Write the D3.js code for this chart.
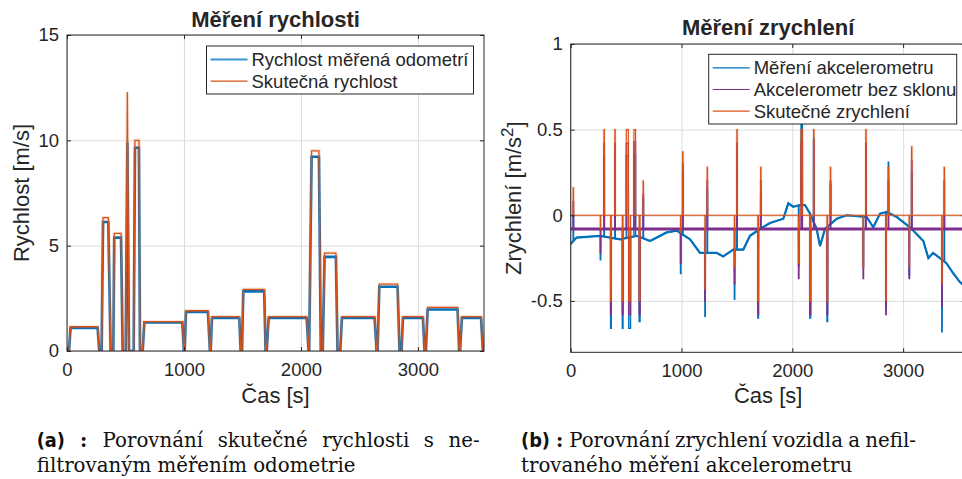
<!DOCTYPE html>
<html>
<head>
<meta charset="utf-8">
<script src="https://cdn.jsdelivr.net/npm/d3@7"></script>
<style>
body { margin: 0; background: #fff; }
svg text { font-family: "Liberation Sans", Arial, sans-serif; fill: #262626; }
.axis path { display: none; }
.axis line { stroke: #262626; }
.grid line { stroke: #dcdcdc; }
.grid path { display: none; }
.caption text { font-family: "DejaVu Serif", serif; fill: #111; }
</style>
</head>
<body>
<div class="chart"></div>
<script>
// ---- speed chart (a), breakpoints ----
var speedTime = [0, 17, 30, 262, 276, 296, 308, 353, 373, 396, 404, 462, 476, 502, 516, 530, 570, 581, 615, 624,
    647, 661, 986, 1000, 1006, 1017, 1205, 1222, 1228, 1239, 1473, 1485, 1496, 1507, 1686, 1698, 1707, 1724,
    2049, 2066, 2070, 2091, 2154, 2170, 2186, 2202, 2299, 2313, 2336, 2350, 2630, 2647, 2655, 2670, 2826, 2843,
    2860, 2872, 3043, 3057, 3068, 3083, 3339, 3353, 3360, 3376, 3540, 3556, 3565];
var speedTrue = [0, 0, 1.15, 1.15, 0, 0, 6.33, 6.33, 0, 0, 5.58, 5.58, 0, 0, 12.3, 0, 0, 10.0, 10.0, 0,
    0, 1.39, 1.39, 0, 0, 1.91, 1.91, 0, 0, 1.63, 1.63, 0, 0, 2.93, 2.93, 0, 0, 1.63,
    1.63, 0, 0, 9.5, 9.5, 0, 0, 4.65, 4.65, 0, 0, 1.63, 1.63, 0, 0, 3.17, 3.17, 0,
    0, 1.63, 1.63, 0, 0, 2.07, 2.07, 0, 0, 1.63, 1.63, 0, 0];
var speedMeas = [0, 0, 1.1, 1.1, 0, 0, 6.12, 6.12, 0, 0, 5.38, 5.38, 0, 0, 9.9, 0, 0, 9.65, 9.65, 0,
    0, 1.36, 1.36, 0, 0, 1.85, 1.85, 0, 0, 1.57, 1.57, 0, 0, 2.83, 2.83, 0, 0, 1.57,
    1.57, 0, 0, 9.22, 9.22, 0, 0, 4.47, 4.47, 0, 0, 1.57, 1.57, 0, 0, 3.05, 3.05, 0,
    0, 1.57, 1.57, 0, 0, 1.97, 1.97, 0, 0, 1.57, 1.57, 0, 0];

// ---- acceleration chart (b) ----
// pulses: centre time, half width [s], true value, without slope, raw accelerometer
var accTime = [24, 269, 302, 363, 400, 469, 511, 532, 578, 622, 655, 993, 1012, 1213, 1233, 1479, 1501, 1692, 1716,
    2058, 2085, 2162, 2194, 2316, 2345, 2641, 2665, 2846, 2868, 3056, 3078, 3351, 3372];
var accHalf = [2, 2, 2, 3, 2, 3, 9, 8, 7, 4, 2, 2, 2, 2, 2, 2, 2, 3, 2,
    2, 6, 4, 2, 3, 2, 2, 2, 2, 2, 2, 2, 2, 2];
var accTrue = [0.16, -0.08, 0.5, -0.5, 0.5, -0.5, 0.5, -0.5, 0.5, -0.5, 0.2, -0.1, 0.37, -0.43, 0.28, -0.3, 0.5, -0.5, 0.28,
    -0.28, 0.5, -0.5, 0.5, -0.5, 0.28, -0.3, 0.5, -0.5, 0.28, -0.3, 0.4, -0.4, 0.28];
var accNoSlope = [0.08, -0.22, 0.42, -0.58, 0.42, -0.58, 0.42, -0.58, 0.43, -0.58, 0.12, -0.28, 0.3, -0.5, 0.2, -0.4, 0.42, -0.58, 0.2,
    -0.37, 0.43, -0.58, 0.43, -0.58, 0.2, -0.37, 0.42, -0.58, 0.2, -0.37, 0.32, -0.53, 0.2];
var accMeas = [0.0, -0.26, 0.35, -0.66, 0.35, -0.66, 0.35, -0.66, 0.35, -0.62, 0.1, -0.34, 0.25, -0.59, 0.15, -0.49, 0.35, -0.6, 0.12,
    -0.3, 0.58, -0.6, 0.45, -0.62, 0.18, -0.3, 0.4, -0.55, 0.31, -0.35, 0.25, -0.68, 0.0];
var accOffset = -0.08;
// slow drift of the raw accelerometer (road slope)
var driftTime = [0, 9, 54, 264, 445, 596, 716, 866, 957, 1077, 1167, 1318, 1377, 1468, 1558, 1618, 1708, 1799,
    1919, 1964, 2009, 2069, 2114, 2160, 2220, 2250, 2295, 2401, 2491, 2671, 2731, 2792, 2852, 2942, 3062,
    3183, 3228, 3271, 3333, 3391, 3454, 3513, 3565];
var driftMeas = [-0.17, -0.16, -0.13, -0.12, -0.14, -0.12, -0.15, -0.10, -0.09, -0.14, -0.22, -0.22, -0.24, -0.20, -0.20, -0.12, -0.08, -0.045,
    -0.02, 0.07, 0.05, 0.06, 0.06, 0.01, -0.08, -0.18, -0.08, -0.02, 0.0, -0.01, -0.07, 0.01, 0.02, -0.01, -0.07,
    -0.15, -0.25, -0.22, -0.25, -0.28, -0.34, -0.39, -0.42];

var timeTicks = [0, 1000, 2000, 3000];
var speedTicks = [0, 5, 10, 15];
var accTicks = [-0.5, 0, 0.5, 1];

var width = 962, height = 479;
var blue = "#0072BD", orange = "#D95319", purple = "#7E2F8E";

function build_svg(c) {
    return c.append("svg").attr("width", width).attr("height", height);
}

// axes box with grid, inward ticks on all four sides
function build_axes(s, o) {
    var x = d3.scaleLinear().domain(o.xDomain).range([0, o.w]);
    var y = d3.scaleLinear().domain(o.yDomain).range([o.h, 0]);
    var g = s.append("g").attr("transform", "translate(" + o.left + "," + o.top + ")");

    g.append("clipPath").attr("id", o.id).append("rect").attr("width", o.w).attr("height", o.h);

    g.append("g").attr("class", "grid")
        .call(d3.axisBottom(x).tickValues(timeTicks).tickSize(o.h).tickFormat(""));
    g.append("g").attr("class", "grid")
        .call(d3.axisLeft(y).tickValues(o.yTicks).tickSize(-o.w).tickFormat(""));

    var plot = g.append("g").attr("clip-path", "url(#" + o.id + ")");

    var fmt = function(d) { return String(d); };
    g.append("g").attr("class", "axis").attr("transform", "translate(0," + o.h + ")")
        .call(d3.axisBottom(x).tickValues(timeTicks).tickSizeInner(-4).tickSizeOuter(0).tickPadding(12).tickFormat(fmt))
        .selectAll("text").style("font-size", "18.5px");
    g.append("g").attr("class", "axis")
        .call(d3.axisTop(x).tickValues(timeTicks).tickSizeInner(-4).tickSizeOuter(0).tickFormat(""));
    g.append("g").attr("class", "axis")
        .call(d3.axisLeft(y).tickValues(o.yTicks).tickSizeInner(-4).tickSizeOuter(0).tickPadding(8).tickFormat(fmt))
        .selectAll("text").style("font-size", "18.5px");
    g.append("g").attr("class", "axis").attr("transform", "translate(" + o.w + ",0)")
        .call(d3.axisRight(y).tickValues(o.yTicks).tickSizeInner(-4).tickSizeOuter(0).tickFormat(""));

    g.append("rect").attr("width", o.w).attr("height", o.h)
        .attr("fill", "none").attr("stroke", "#262626").attr("stroke-width", 1);

    g.append("text").attr("x", o.w / 2).attr("y", o.titleY - o.top)
        .attr("text-anchor", "middle").style("font-size", "22px").style("font-weight", "bold")
        .attr("fill", "#000").text(o.title);
    g.append("text").attr("x", o.w / 2).attr("y", 403 - o.top)
        .attr("text-anchor", "middle").style("font-size", "22px").text("Čas [s]");

    return {x: x, y: y, g: g, plot: plot};
}

function build_legend(s, box, rows) {
    var g = s.append("g");
    g.append("rect").attr("x", box[0]).attr("y", box[1]).attr("width", box[2]).attr("height", box[3])
        .attr("fill", "#fff").attr("stroke", "#262626").attr("stroke-width", 1);
    rows.forEach(function(r, i) {
        var cy = box[1] + 13.5 + i * 21.7;
        g.append("line").attr("x1", box[0] + 4).attr("x2", box[0] + 41).attr("y1", cy).attr("y2", cy)
            .attr("stroke", r.color).attr("stroke-width", r.w);
        g.append("text").attr("x", box[0] + 45).attr("y", cy).attr("dy", "0.36em")
            .style("font-size", "18.5px").text(r.label);
    });
}

function build_speed(s) {
    var a = build_axes(s, {id: "clipA", left: 67, top: 35, w: 417, h: 316, xDomain: [0, 3565], yDomain: [0, 15],
        yTicks: speedTicks, title: "Měření rychlosti", titleY: 27});
    var line = d3.line().x(function(d) { return a.x(d[0]); }).y(function(d) { return a.y(d[1]); });
    var meas = speedTime.map(function(t, i) { return [t, speedMeas[i]]; });
    var real = speedTime.map(function(t, i) { return [t, speedTrue[i]]; });

    a.plot.append("path").datum(meas).attr("d", line).attr("fill", "none")
        .attr("stroke", blue).attr("stroke-width", 2.6);
    a.plot.append("path").datum(real).attr("d", line).attr("fill", "none")
        .attr("stroke", orange).attr("stroke-opacity", 0.15).attr("stroke-width", 3.5);
    a.plot.append("path").datum(real).attr("d", line).attr("fill", "none")
        .attr("stroke", orange).attr("stroke-width", 1.3);

    a.g.append("text").attr("transform", "translate(" + (29 - 67) + "," + (316 / 2) + ") rotate(-90)")
        .attr("text-anchor", "middle").style("font-size", "22px").text("Rychlost [m/s]");

    build_legend(s, [206.5, 46, 267, 48], [
        {label: "Rychlost měřená odometrí", color: "#3b93d4", w: 2},
        {label: "Skutečná rychlost", color: orange, w: 1.2}
    ]);
}

// pulse series: base level with a rectangular pulse at each event
function pulses(base, peaks) {
    var pts = [];
    var inPulse = function(t) {
        return accTime.some(function(c, i) { return t >= c - accHalf[i] - 1 && t <= c + accHalf[i] + 1; });
    };
    driftTime.forEach(function(t) { if (!inPulse(t)) pts.push([t, base(t)]); });
    accTime.forEach(function(c, i) {
        var t0 = c - accHalf[i], t1 = c + accHalf[i];
        pts.push([t0 - 0.5, base(t0)], [t0, peaks[i]], [t1, peaks[i]], [t1 + 0.5, base(t1)]);
    });
    pts.sort(function(p, q) { return p[0] - q[0]; });
    return pts;
}

function build_acc(s) {
    var a = build_axes(s, {id: "clipB", left: 570.7, top: 44, w: 395, h: 308.3, xDomain: [0, 3565], yDomain: [-0.8, 1],
        yTicks: accTicks, title: "Měření zrychlení", titleY: 35});
    var line = d3.line().x(function(d) { return a.x(d[0]); }).y(function(d) { return a.y(d[1]); });
    var drift = d3.scaleLinear().domain(driftTime).range(driftMeas);

    // raw accelerometer: thicker drift, thin spikes
    a.plot.append("path").datum(driftTime.map(function(t, i) { return [t, driftMeas[i]]; })).attr("d", line)
        .attr("fill", "none").attr("stroke", blue).attr("stroke-width", 2.2);
    a.plot.append("path").datum(pulses(drift, accMeas)).attr("d", line).attr("fill", "none")
        .attr("stroke", blue).attr("stroke-width", 1.4);

    // accelerometer without slope: thick constant offset, thin spikes
    a.plot.append("path").datum(a.x.domain().map(function(t) { return [t, accOffset]; })).attr("d", line)
        .attr("fill", "none").attr("stroke", purple).attr("stroke-width", 3.2);
    a.plot.append("path").datum(pulses(function() { return accOffset; }, accNoSlope)).attr("d", line)
        .attr("fill", "none").attr("stroke", purple).attr("stroke-width", 1.4);

    var real = pulses(function() { return 0; }, accTrue);
    a.plot.append("path").datum(real).attr("d", line).attr("fill", "none")
        .attr("stroke", orange).attr("stroke-opacity", 0.12).attr("stroke-width", 3);
    a.plot.append("path").datum(real).attr("d", line).attr("fill", "none")
        .attr("stroke", orange).attr("stroke-width", 1.1);

    var lab = a.g.append("text").attr("transform", "translate(" + (521 - 570.7) + "," + (308.3 / 2) + ") rotate(-90)")
        .attr("text-anchor", "middle").style("font-size", "22px");
    lab.append("tspan").text("Zrychlení [m/s");
    lab.append("tspan").attr("dy", "-0.45em").style("font-size", "17px").text("2");
    lab.append("tspan").attr("dy", "0.45em").text("]");

    build_legend(s, [708.7, 54.3, 248, 69.7], [
        {label: "Měření akcelerometru", color: blue, w: 1.2},
        {label: "Akcelerometr bez sklonu", color: purple, w: 1.2},
        {label: "Skutečné zrychlení", color: orange, w: 1.2}
    ]);
}

// LaTeX sub-caption: first line justified to the caption width by word spacing
function build_caption(s, x, w, tag, lines) {
    var g = s.append("g").attr("class", "caption");
    var t = g.append("text").attr("x", x).attr("y", 447).style("font-size", "19.8px");
    t.append("tspan").style("font-family", "'DejaVu Sans Condensed', 'DejaVu Sans', sans-serif")
        .style("font-weight", "bold").text(tag);
    t.append("tspan").style("font-weight", "bold").text(" : ");
    t.append("tspan").text(lines[0]);
    var natural = t.node().getComputedTextLength();
    var gaps = (tag + " : " + lines[0]).split(" ").length - 1;
    t.style("word-spacing", Math.max(-1.5, (w - natural) / gaps) + "px");
    g.append("text").attr("x", x).attr("y", 472).style("font-size", "19.8px").text(lines[1]);
}

function main() {
    var svg = build_svg(d3.select(".chart"));
    build_speed(svg);
    build_acc(svg);
    build_caption(svg, 36.7, 443, "(a)", ["Porovnání skutečné rychlosti s ne-", "filtrovaným měřením odometrie"]);
    build_caption(svg, 521, 395, "(b)", ["Porovnání zrychlení vozidla a nefil-", "trovaného měření akcelerometru"]);
}

main();
</script>
</body>
</html>
